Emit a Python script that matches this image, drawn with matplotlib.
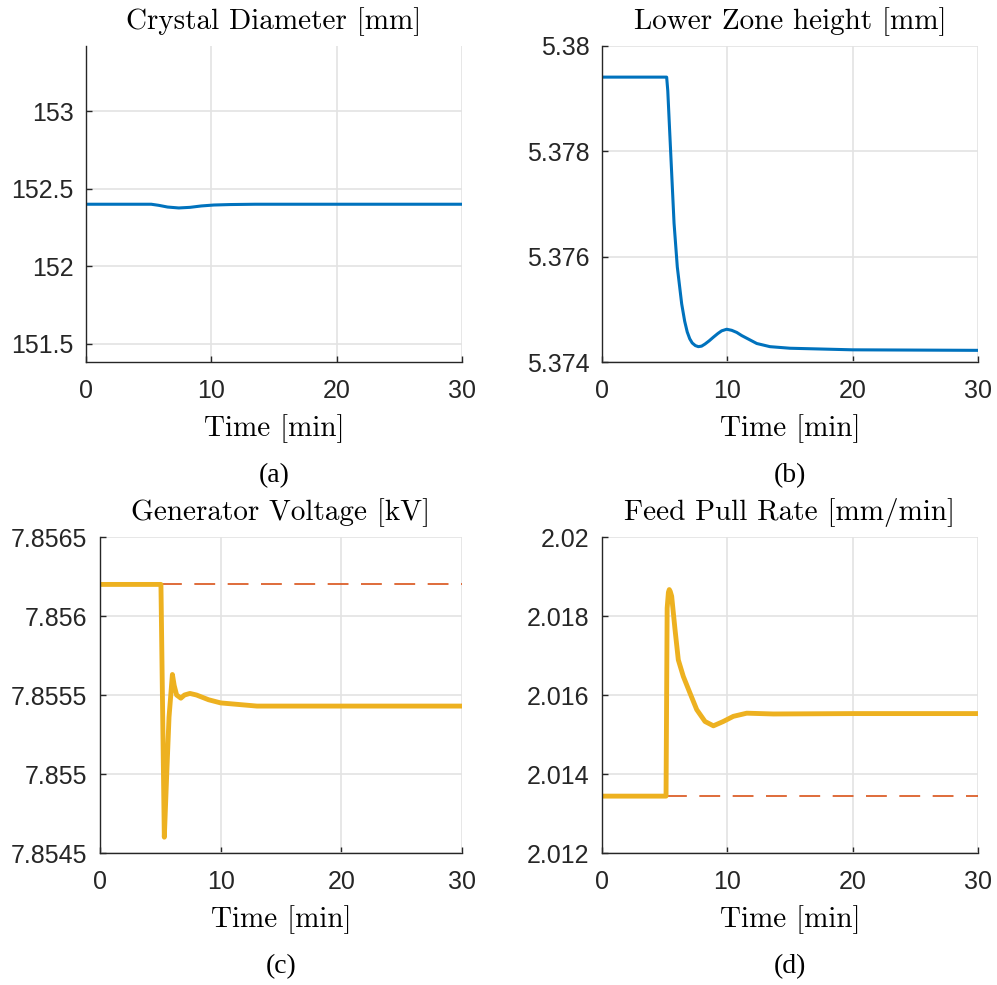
"""Step response of the float-zone process after the power set-point change at t = 5 min.

Four panels: crystal diameter, lower zone height, generator voltage and feed
pull rate, each with its sampled trajectory; the actuators also show their
initial operating point as a dashed line.
"""

import matplotlib

matplotlib.use("Agg")
import matplotlib.pyplot as plt  # noqa: E402

BLUE = "#0072BD"
ORANGE = "#D95319"
YELLOW = "#EDB120"
AXIS_COLOR = "#262626"
GRID_COLOR = "#E3E3E3"

TIME_TICKS = [0, 10, 20, 30]

# (a) crystal diameter [mm]
diam_t = [0, 5.2, 5.8, 6.5, 7.4, 8.3, 9.2, 10.2, 11.5, 13.5, 20, 30]
diam_v = [152.40, 152.40, 152.393, 152.382, 152.376, 152.380, 152.389, 152.395,
          152.398, 152.400, 152.400, 152.400]
diam_ticks = [151.5, 152, 152.5, 153]
diam_labels = ["151.5", "152", "152.5", "153"]

# (b) lower zone height [mm]
zone_t = [0, 5.16, 5.25, 5.37, 5.56, 5.75, 6.01, 6.36, 6.6, 6.8, 7.0, 7.2, 7.45,
          7.69, 7.95, 8.22, 8.55, 8.89, 9.25, 9.55, 9.95, 10.35, 10.75, 11.15,
          11.55, 12.35, 13.4, 15.0, 20.0, 30.0]
zone_v = [5.37941, 5.37941, 5.37915, 5.37854, 5.37759, 5.37664, 5.37581, 5.37511,
          5.37478, 5.37458, 5.37445, 5.37437, 5.37432, 5.37430, 5.37431, 5.37435,
          5.37441, 5.37448, 5.37455, 5.37460, 5.37463, 5.37461, 5.37457, 5.37451,
          5.37446, 5.37436, 5.37430, 5.37427, 5.37424, 5.37423]
zone_ticks = [5.374, 5.376, 5.378, 5.38]
zone_labels = ["5.374", "5.376", "5.378", "5.38"]

# (c) generator voltage [kV]
volt_t = [0, 5.05, 5.33, 5.52, 5.72, 6.0, 6.15, 6.35, 6.7, 7.0, 7.45, 8.0, 9.0,
          10.0, 11.5, 13.0, 16.0, 20.0, 30.0]
volt_v = [7.85620, 7.85620, 7.85460, 7.85498, 7.85536, 7.85563, 7.85556, 7.85550,
          7.85548, 7.85550, 7.85551, 7.85550, 7.85547, 7.85545, 7.85544, 7.85543,
          7.85543, 7.85543, 7.85543]
volt_ref_t = [5.05, 30]
volt_ref_v = [7.85620, 7.85620]
volt_ticks = [7.8545, 7.855, 7.8555, 7.856, 7.8565]
volt_labels = ["7.8545", "7.855", "7.8555", "7.856", "7.8565"]

# (d) feed pull rate [mm/min]
feed_t = [0, 5.11, 5.2, 5.3, 5.37, 5.45, 5.56, 5.83, 6.09, 6.49, 7.02, 7.56, 8.22,
          8.89, 9.68, 10.48, 11.55, 13.67, 20.0, 30.0]
feed_v = [2.01344, 2.01344, 2.01820, 2.01860, 2.01867, 2.01862, 2.01850, 2.01765,
          2.01689, 2.01647, 2.01605, 2.01563, 2.01533, 2.01522, 2.01533, 2.01546,
          2.01554, 2.01552, 2.01553, 2.01553]
feed_ref_t = [5.11, 30]
feed_ref_v = [2.01344, 2.01344]
feed_ticks = [2.012, 2.014, 2.016, 2.018, 2.02]
feed_labels = ["2.012", "2.014", "2.016", "2.018", "2.02"]

TITLE_FONT = {"family": "cmr10", "size": 21}
TICK_FONT = "Liberation Sans"


def _style(ax, title, ylim, yticks, ylabels, tag):
    ax.set_xlim(0, 30)
    ax.set_ylim(*ylim)
    ax.set_xticks(TIME_TICKS)
    ax.set_xticklabels([str(t) for t in TIME_TICKS])
    ax.set_yticks(yticks)
    ax.set_yticklabels(ylabels)
    for label in ax.get_xticklabels() + ax.get_yticklabels():
        label.set_fontfamily(TICK_FONT)
        label.set_fontsize(18)
        label.set_color(AXIS_COLOR)
    ax.tick_params(direction="in", length=4, width=1, color=AXIS_COLOR, pad=9)
    ax.tick_params(axis="x", pad=12)
    for side in ("top", "right"):
        ax.spines[side].set_visible(False)
    for side in ("left", "bottom"):
        ax.spines[side].set_color(AXIS_COLOR)
        ax.spines[side].set_linewidth(1.0)
    ax.grid(True, color=GRID_COLOR, linewidth=1.2)
    ax.set_axisbelow(True)
    ax.set_title(title, fontdict=TITLE_FONT, pad=12)
    ax.set_xlabel("Time [min]", fontdict=TITLE_FONT, labelpad=8)
    box = ax.get_position()
    ax.figure.text(
        (box.x0 + box.x1) / 2,
        box.y0 - 0.115,
        tag,
        ha="center",
        va="center",
        fontfamily="Liberation Serif",
        fontsize=20,
    )


fig = plt.figure(figsize=(9.97, 9.85), dpi=100)
ax_a = fig.add_axes([0.0863, 0.632, 0.3771, 0.3213])
ax_b = fig.add_axes([0.6038, 0.632, 0.3771, 0.3213])
ax_c = fig.add_axes([0.1003, 0.134, 0.3631, 0.3208])
ax_d = fig.add_axes([0.6038, 0.134, 0.3771, 0.3208])

ax_a.plot(diam_t, diam_v, color=BLUE, lw=2.2)
_style(ax_a, "Crystal Diameter [mm]", (151.38, 153.42), diam_ticks, diam_labels, "(a)")

ax_b.plot(zone_t, zone_v, color=BLUE, lw=2.2)
_style(ax_b, "Lower Zone height [mm]", (5.374, 5.38), zone_ticks, zone_labels, "(b)")

ax_c.plot(volt_ref_t, volt_ref_v, color=ORANGE, lw=1.2, ls=(0, (12.5, 7.5)))
ax_c.plot(volt_t, volt_v, color=YELLOW, lw=3.5)
_style(ax_c, "Generator Voltage [kV]", (7.8545, 7.8565), volt_ticks, volt_labels, "(c)")

ax_d.plot(feed_ref_t, feed_ref_v, color=ORANGE, lw=1.2, ls=(0, (12.5, 7.5)))
ax_d.plot(feed_t, feed_v, color=YELLOW, lw=3.5)
_style(ax_d, "Feed Pull Rate [mm/min]", (2.012, 2.02), feed_ticks, feed_labels, "(d)")

fig.savefig("out.png", dpi=100)
plt.close(fig)
